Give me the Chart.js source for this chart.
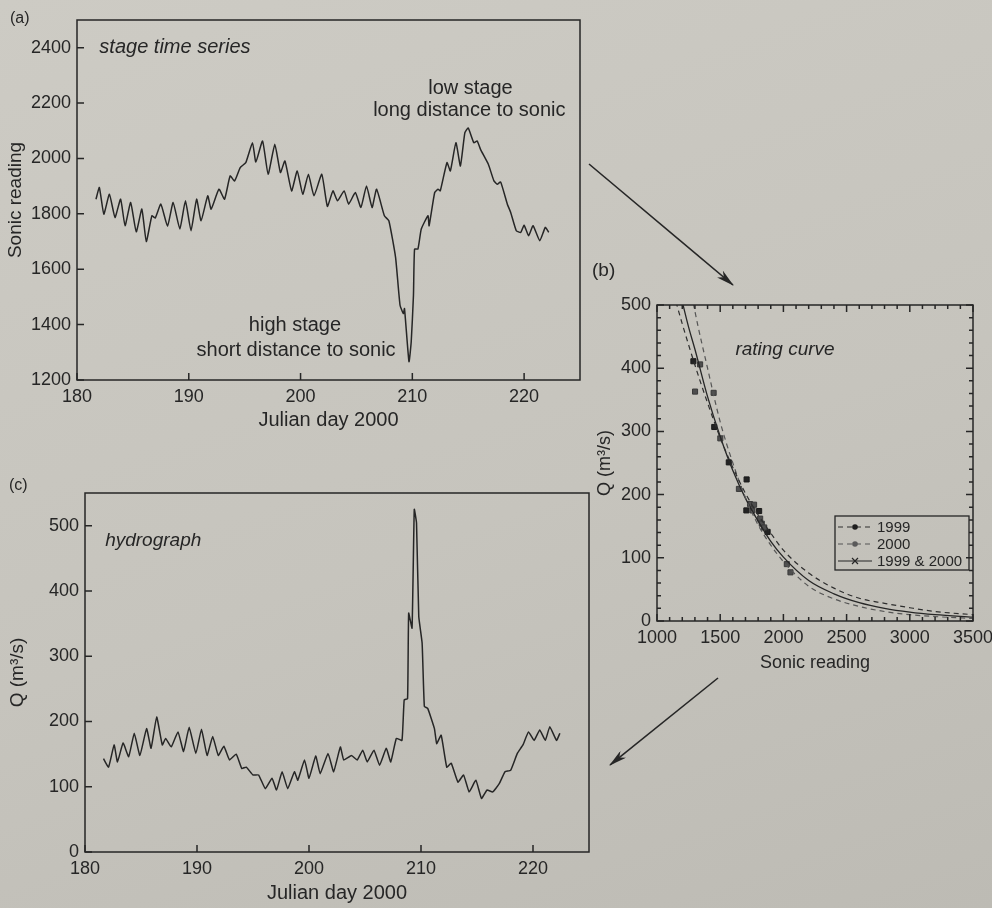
<!DOCTYPE html>
<html>
<head>
<meta charset="utf-8">
<script src="https://cdn.jsdelivr.net/npm/chart.js@4.4.1/dist/chart.umd.min.js"></script>
<style>
  body {
    margin: 0;
    width: 992px;
    height: 908px;
    overflow: hidden;
    position: relative;
    background: linear-gradient(160deg, #cdcbc4 0%, #c6c4bd 55%, #bdbbb4 100%);
  }
  canvas { position: absolute; }
  svg { position: absolute; left: 0; top: 0; }
</style>
</head>
<body>
<canvas id="stageChart" width="600" height="440" style="left:0;top:0"></canvas>
<canvas id="ratingChart" width="420" height="425" style="left:585px;top:255px"></canvas>
<canvas id="flowChart" width="610" height="438" style="left:0;top:470px"></canvas>
<svg width="992" height="908">
  <defs>
    <marker id="head" markerWidth="18" markerHeight="9" refX="17" refY="4.5" orient="auto" markerUnits="userSpaceOnUse">
      <path d="M0,0 L18,4.5 L0,9 L5,4.5 Z" fill="#262626"/>
    </marker>
  </defs>
  <line x1="589" y1="164" x2="733" y2="285" stroke="#262626" stroke-width="1.6" marker-end="url(#head)"/>
  <line x1="718" y1="678" x2="610" y2="765" stroke="#262626" stroke-width="1.6" marker-end="url(#head)"/>
</svg>
<script>
// (a) stage time series
const stageDay = [181.7, 182.0, 182.4, 182.9, 183.4, 183.9, 184.3, 184.8, 185.3, 185.8,
  186.2, 186.7, 187.0, 187.5, 188.1, 188.6, 189.2, 189.7, 190.2, 190.7,
  191.1, 191.7, 192.0, 192.7, 193.2, 193.7, 194.1, 194.6, 195.1, 195.7,
  196.0, 196.6, 197.1, 197.7, 198.2, 198.6, 199.2, 199.7, 200.2, 200.7,
  201.2, 201.9, 202.4, 202.9, 203.3, 203.9, 204.3, 204.9, 205.4, 205.9,
  206.4, 206.8, 207.5, 207.9, 208.5, 208.9, 209.2, 209.3, 209.7, 209.9,
  210.1, 210.2, 210.5, 210.8, 211.4, 211.5, 212.0, 212.3, 212.5, 213.1,
  213.4, 213.9, 214.3, 214.7, 215.0, 215.5, 215.8, 216.1, 216.8, 217.3,
  217.6, 217.9, 218.5, 218.8, 219.3, 219.7, 220.0, 220.4, 220.8, 221.4,
  221.9, 222.2];
const stageSonic = [1853, 1895, 1799, 1871, 1787, 1853, 1757, 1841, 1735, 1817,
  1700, 1793, 1785, 1835, 1755, 1841, 1745, 1847, 1739, 1853,
  1775, 1865, 1817, 1889, 1853, 1937, 1919, 1967, 1985, 2057,
  1987, 2063, 1943, 2051, 1949, 1991, 1883, 1955, 1871, 1943,
  1865, 1943, 1827, 1883, 1847, 1883, 1835, 1877, 1823, 1901,
  1823, 1889, 1793, 1775, 1643, 1470, 1440, 1458, 1266, 1338,
  1505, 1673, 1673, 1745, 1793, 1757, 1877, 1889, 1883, 1985,
  1955, 2057, 1973, 2093, 2110, 2057, 2063, 2033, 1979, 1919,
  1907, 1915, 1835, 1805, 1739, 1733, 1759, 1721, 1757, 1703,
  1751, 1733];

// (c) hydrograph
const flowDay = [181.65, 182.1, 182.6, 182.9, 183.4, 183.9, 184.4, 184.9, 185.5, 185.9,
  186.4, 186.9, 187.2, 187.7, 188.3, 188.8, 189.3, 189.9, 190.4, 190.9,
  191.4, 191.9, 192.4, 192.9, 193.5, 194.0, 194.4, 195.0, 195.5, 196.1,
  196.7, 197.1, 197.6, 198.1, 198.7, 199.0, 199.6, 200.0, 200.6, 201.0,
  201.7, 202.2, 202.8, 203.1, 203.8, 204.3, 204.8, 205.2, 205.8, 206.3,
  206.9, 207.3, 207.8, 208.3, 208.5, 208.8, 208.9, 209.2, 209.4, 209.6,
  209.8, 210.1, 210.3, 210.6, 211.2, 211.4, 211.8, 212.3, 212.7, 213.3,
  213.8, 214.3, 214.9, 215.4, 215.9, 216.4, 217.0, 217.5, 218.0, 218.6,
  219.1, 219.6, 220.1, 220.6, 221.1, 221.5, 222.1, 222.4];
const flowQ = [143, 130, 164, 138, 167, 146, 182, 148, 189, 159,
  207, 164, 174, 161, 184, 154, 191, 151, 188, 148,
  177, 148, 162, 141, 150, 128, 130, 118, 118, 97,
  113, 95, 123, 97, 123, 110, 141, 113, 147, 120,
  151, 123, 161, 141, 148, 141, 156, 138, 156, 133,
  159, 138, 174, 171, 233, 235, 366, 343, 525, 504,
  361, 320, 223, 220, 189, 166, 179, 130, 136, 107,
  118, 92, 110, 82, 95, 92, 105, 123, 125, 151,
  164, 184, 171, 187, 171, 192, 171, 182];

// (b) rating curve: gaugings and fitted curves
const sonic1999 = [1288, 1453, 1568, 1709, 1707, 1808, 1875];
const q1999 = [411, 307, 251, 224, 175, 174, 141];
const sonic2000 = [1341, 1301, 1448, 1501, 1648, 1736, 1768, 1755, 1816, 1829, 1848, 2027, 2056];
const q2000 = [406, 363, 361, 289, 209, 185, 184, 175, 162, 154, 148, 90, 77];
const fitSonic = [1150, 1200, 1250, 1300, 1400, 1500, 1600, 1700, 1800, 1900, 2000, 2200, 2400, 2600, 2800, 3000, 3200, 3500];
const fit1999 = [505, 470, 437, 405, 345, 290, 243, 202, 168, 139, 112, 76, 52, 36, 28, 21, 15, 10];
const fit2000 = [700, 610, 545, 490, 400, 315, 250, 195, 152, 120, 94, 55, 35, 23, 15, 10, 7, 4];
const fitBoth = [545, 505, 465, 430, 355, 292, 238, 194, 158, 126, 101, 64, 43, 29, 20, 14, 10, 6];

const INK = "#262626";
const FONT = '"Liberation Sans", Arial, sans-serif';

function pts(xs, ys) {
  return xs.map((v, i) => ({ x: v, y: ys[i] }));
}

// box round the plot area, inward ticks, notes and panel letter
const framePlugin = {
  id: "frame",
  afterDatasetsDraw(chart, args, opts) {
    const { ctx, chartArea: a } = chart;
    const x = chart.scales.x, y = chart.scales.y;
    ctx.save();
    ctx.strokeStyle = INK;
    ctx.lineWidth = 1.5;
    ctx.strokeRect(a.left, a.top, a.right - a.left, a.bottom - a.top);
    ctx.beginPath();
    const mark = (px, py, dx, dy) => { ctx.moveTo(px, py); ctx.lineTo(px + dx, py + dy); };
    const major = opts.major;
    x.ticks.forEach(t => {
      const p = x.getPixelForValue(t.value);
      mark(p, a.bottom, 0, -major);
      if (opts.box) mark(p, a.top, 0, major);
    });
    y.ticks.forEach(t => {
      const p = y.getPixelForValue(t.value);
      mark(a.left, p, major, 0);
      if (opts.box) mark(a.right, p, -major, 0);
    });
    if (opts.xMinor) {
      for (let v = x.min; v <= x.max; v += opts.xMinor) {
        const p = x.getPixelForValue(v);
        mark(p, a.bottom, 0, -opts.minor);
        mark(p, a.top, 0, opts.minor);
      }
    }
    if (opts.yMinor) {
      for (let v = y.min; v <= y.max; v += opts.yMinor) {
        const p = y.getPixelForValue(v);
        mark(a.left, p, opts.minor, 0);
        mark(a.right, p, -opts.minor, 0);
      }
    }
    ctx.stroke();

    ctx.fillStyle = INK;
    ctx.textBaseline = "middle";
    (opts.notes || []).forEach(n => {
      ctx.font = (n.italic ? "italic " : "") + n.size + "px " + FONT;
      ctx.textAlign = n.align || "center";
      ctx.fillText(n.text, x.getPixelForValue(n.x), y.getPixelForValue(n.y));
    });
    if (opts.letter) {
      ctx.font = opts.letter.size + "px " + FONT;
      ctx.textAlign = "left";
      ctx.fillText(opts.letter.text, opts.letter.x, opts.letter.y);
    }

    if (opts.legend) {
      const bx = a.left + 178, by = a.top + 211, bw = a.right - 4 - bx, bh = 54;
      ctx.strokeStyle = INK;
      ctx.lineWidth = 1.3;
      ctx.strokeRect(bx, by, bw, bh);
      ctx.font = "15px " + FONT;
      ctx.textAlign = "left";
      chart.data.datasets.filter(d => d.legendRow !== undefined).forEach(d => {
        const ry = by + 11 + d.legendRow * 17;
        ctx.strokeStyle = d.borderColor;
        ctx.lineWidth = 1.2;
        ctx.setLineDash(d.borderDash || []);
        ctx.beginPath();
        ctx.moveTo(bx + 3, ry);
        ctx.lineTo(bx + 37, ry);
        ctx.stroke();
        ctx.setLineDash([]);
        ctx.fillStyle = d.legendMark;
        ctx.strokeStyle = d.legendMark;
        if (d.legendRow < 2) {
          ctx.beginPath();
          ctx.arc(bx + 20, ry, 2.8, 0, Math.PI * 2);
          ctx.fill();
        } else {
          ctx.beginPath();
          ctx.moveTo(bx + 17, ry - 3); ctx.lineTo(bx + 23, ry + 3);
          ctx.moveTo(bx + 17, ry + 3); ctx.lineTo(bx + 23, ry - 3);
          ctx.stroke();
        }
        ctx.fillStyle = INK;
        ctx.fillText(d.label, bx + 42, ry + 1);
      });
    }
    ctx.restore();
  }
};

function axis(min, max, step, size, titleText, titleSize, titlePad, fitKey, fitVal) {
  const s = {
    type: "linear",
    min: min,
    max: max,
    grid: { display: false, drawTicks: false },
    border: { display: false },
    ticks: {
      stepSize: step,
      includeBounds: false,
      autoSkip: false,
      maxRotation: 0,
      padding: 6,
      color: INK,
      font: { family: FONT, size: size },
      callback: v => String(v)
    },
    title: {
      display: true,
      text: titleText,
      color: INK,
      font: { family: FONT, size: titleSize },
      padding: titlePad
    }
  };
  s.afterFit = sc => { sc[fitKey] = fitVal; };
  return s;
}

const baseOptions = {
  responsive: false,
  animation: false,
  plugins: { legend: { display: false }, tooltip: { enabled: false } }
};

new Chart(document.getElementById("stageChart"), {
  type: "line",
  data: {
    datasets: [{
      data: pts(stageDay, stageSonic),
      borderColor: INK,
      borderWidth: 1.5,
      pointRadius: 0,
      tension: 0.15
    }]
  },
  options: {
    ...baseOptions,
    layout: { padding: { top: 20, right: 20, left: 0, bottom: 0 } },
    scales: {
      x: axis(180, 225, 10, 18, "Julian day 2000", 20, { top: 0, bottom: 8 }, "height", 60),
      y: axis(1200, 2500, 200, 18, "Sonic reading", 19, { top: 4, bottom: 0 }, "width", 77)
    },
    plugins: {
      ...baseOptions.plugins,
      frame: {
        major: 7,
        letter: { text: "(a)", size: 16, x: 10, y: 19 },
        notes: [
          { text: "stage time series", x: 182.0, y: 2400, align: "left", italic: true, size: 20 },
          { text: "low stage", x: 215.2, y: 2252, size: 20 },
          { text: "long distance to sonic", x: 215.1, y: 2173, size: 20 },
          { text: "high stage", x: 199.5, y: 1398, size: 20 },
          { text: "short distance to sonic", x: 199.6, y: 1308, size: 20 }
        ]
      }
    }
  },
  plugins: [framePlugin]
});

new Chart(document.getElementById("ratingChart"), {
  type: "scatter",
  data: {
    datasets: [
      {
        label: "1999",
        data: pts(fitSonic, fit1999),
        showLine: true,
        borderColor: "#2e2e2e",
        borderWidth: 1.2,
        borderDash: [5, 4],
        pointRadius: 0,
        cubicInterpolationMode: "monotone",
        legendRow: 0,
        legendMark: "#1e1e1e"
      },
      {
        label: "2000",
        data: pts(fitSonic, fit2000),
        showLine: true,
        borderColor: "#555555",
        borderWidth: 1.2,
        borderDash: [5, 4],
        pointRadius: 0,
        cubicInterpolationMode: "monotone",
        legendRow: 1,
        legendMark: "#5a5a5a"
      },
      {
        label: "1999 & 2000",
        data: pts(fitSonic, fitBoth),
        showLine: true,
        borderColor: "#262626",
        borderWidth: 1.3,
        pointRadius: 0,
        cubicInterpolationMode: "monotone",
        legendRow: 2,
        legendMark: "#262626"
      },
      {
        data: pts(sonic2000, q2000),
        pointStyle: "rect",
        pointRadius: 3.6,
        backgroundColor: "#4e4e4e",
        borderColor: "#3a3a3a",
        borderWidth: 1
      },
      {
        data: pts(sonic1999, q1999),
        pointStyle: "rect",
        pointRadius: 3.6,
        backgroundColor: "#232323",
        borderColor: "#1a1a1a",
        borderWidth: 1
      }
    ]
  },
  options: {
    ...baseOptions,
    layout: { padding: { top: 50, right: 32, left: 0, bottom: 0 } },
    scales: {
      x: axis(1000, 3500, 500, 18, "Sonic reading", 18, { top: 0, bottom: 6 }, "height", 59),
      y: axis(0, 500, 100, 18, "Q (m\u00b3/s)", 18, { top: 9, bottom: 0 }, "width", 72)
    },
    plugins: {
      ...baseOptions.plugins,
      frame: {
        major: 7,
        minor: 4,
        box: true,
        xMinor: 100,
        yMinor: 20,
        legend: true,
        letter: { text: "(b)", size: 19, x: 7, y: 16 },
        notes: [
          { text: "rating curve", x: 2013, y: 430, italic: true, size: 19 }
        ]
      }
    }
  },
  plugins: [framePlugin]
});

new Chart(document.getElementById("flowChart"), {
  type: "line",
  data: {
    datasets: [{
      data: pts(flowDay, flowQ),
      borderColor: INK,
      borderWidth: 1.5,
      pointRadius: 0,
      tension: 0.12
    }]
  },
  options: {
    ...baseOptions,
    layout: { padding: { top: 23, right: 21, left: 0, bottom: 0 } },
    scales: {
      x: axis(180, 225, 10, 18, "Julian day 2000", 20, { top: 0, bottom: 3 }, "height", 56),
      y: axis(0, 550, 100, 18, "Q (m\u00b3/s)", 19, { top: 6, bottom: 0 }, "width", 85)
    },
    plugins: {
      ...baseOptions.plugins,
      frame: {
        major: 7,
        letter: { text: "(c)", size: 16, x: 9, y: 16 },
        notes: [
          { text: "hydrograph", x: 181.8, y: 477, align: "left", italic: true, size: 19 }
        ]
      }
    }
  },
  plugins: [framePlugin]
});
</script>
</body>
</html>
